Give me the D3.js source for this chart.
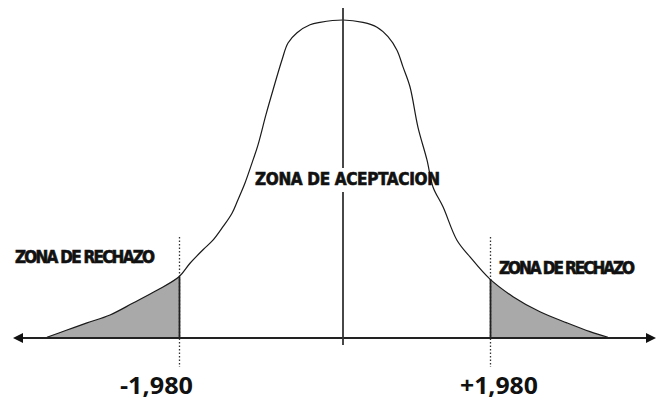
<!DOCTYPE html>
<html>
<head>
<meta charset="utf-8">
<script src="https://cdn.jsdelivr.net/npm/d3@7/dist/d3.min.js"></script>
<style>
  html, body { margin: 0; padding: 0; background: #fff; }
  svg { display: block; }
</style>
</head>
<body>
<svg id="chart" width="657" height="401"></svg>
<script>
// Standardised statistic (z) and curve height at each sampled point
const zValues = [-3.574, -3.332, -3.091, -2.813, -2.535, -2.246, -1.98, -1.847, -1.690, -1.570,
  -1.449, -1.340, -1.268, -1.183, -1.099, -1.026, -0.930, -0.845, -0.736, -0.664, -0.555,
  -0.398, -0.278, 0, 0.269, 0.458, 0.606, 0.727, 0.808, 0.902, 1.010, 1.131, 1.212, 1.347,
  1.535, 1.711, 1.98, 2.290, 2.653, 3.017, 3.327, 3.569];
const density = [0.001, 0.010, 0.019, 0.029, 0.044, 0.060, 0.077, 0.094, 0.111, 0.123,
  0.140, 0.157, 0.174, 0.195, 0.220, 0.243, 0.281, 0.312, 0.350, 0.371, 0.384,
  0.394, 0.397, 0.400, 0.397, 0.391, 0.379, 0.362, 0.341, 0.316, 0.265, 0.224, 0.190, 0.165,
  0.123, 0.102, 0.074, 0.052, 0.033, 0.019, 0.008, 0.001];

// Critical values and their labels
const criticalValues = [-1.98, 1.98];
const tickLabels = ["-1,980", "+1,980"];

// Zone labels
const acceptLabel = "ZONA DE ACEPTACION";
const rejectLabel = "ZONA DE RECHAZO";

const points = zValues.map((z, i) => ({ z, d: density[i] }));

const svg = d3.select("#chart");

const x = d3.scaleLinear().domain([-1.98, 0, 1.98]).range([179, 343, 490]);
const y = d3.scaleLinear().domain([0, 0.4]).range([338, 20]);
const baseY = y(0);

const line = d3.line().x(p => x(p.z)).y(p => y(p.d)).curve(d3.curveCatmullRom.alpha(0.5));
const area = d3.area().x(p => x(p.z)).y0(baseY).y1(p => y(p.d)).curve(d3.curveCatmullRom.alpha(0.5));

// Shaded rejection tails
const leftTail = points.filter(p => p.z <= criticalValues[0]);
const rightTail = points.filter(p => p.z >= criticalValues[1]);
svg.append("path").datum(leftTail).attr("d", area).attr("fill", "#a9a9a9");
svg.append("path").datum(rightTail).attr("d", area).attr("fill", "#a9a9a9");

// Critical value markers: dotted guide plus solid edge of the tail
const critTop = 237, critBottom = 367;
criticalValues.forEach(c => {
  const cx = Math.round(x(c)) + 0.5;
  const dc = points.find(p => p.z === c).d;
  svg.append("line")
    .attr("x1", cx).attr("x2", cx).attr("y1", critTop).attr("y2", critBottom)
    .attr("stroke", "#333").attr("stroke-width", 1.3).attr("stroke-dasharray", "1.5,2");
  svg.append("line")
    .attr("x1", cx).attr("x2", cx).attr("y1", y(dc)).attr("y2", baseY)
    .attr("stroke", "#222").attr("stroke-width", 1.8);
});

// Density curve
svg.append("path").datum(points).attr("d", line)
  .attr("fill", "none").attr("stroke", "#1a1a1a").attr("stroke-width", 1.2);

// Horizontal axis with arrowheads at both ends
const axisLeft = 13, axisRight = 656;
svg.append("line")
  .attr("x1", axisLeft + 4).attr("x2", axisRight - 4).attr("y1", baseY).attr("y2", baseY)
  .attr("stroke", "#222").attr("stroke-width", 2);
svg.append("path")
  .attr("d", `M${axisLeft},${baseY} L${axisLeft + 10},${baseY - 5} L${axisLeft + 10},${baseY + 5} Z`)
  .attr("fill", "#111");
svg.append("path")
  .attr("d", `M${axisRight},${baseY} L${axisRight - 10},${baseY - 5} L${axisRight - 10},${baseY + 5} Z`)
  .attr("fill", "#111");

const zoneFont = "'DejaVu Sans Condensed','Liberation Sans Narrow','Liberation Sans',sans-serif";

// Heavy, tightly spaced zone label; letter spacing is tuned so the text spans `width`
function zoneText(label, lx, ly, width, size) {
  const t = svg.append("text")
    .attr("x", lx).attr("y", ly)
    .attr("font-family", zoneFont).attr("font-weight", 700).attr("font-size", size)
    .attr("fill", "#111").attr("stroke", "#111").attr("stroke-width", 0.6)
    .text(label);
  const natural = t.node().getComputedTextLength();
  const spacing = (width - natural) / (label.length - 1);
  t.attr("letter-spacing", spacing.toFixed(2));
  return t;
}

// Acceptance zone label
const acc = zoneText(acceptLabel, 255, 185, 185, 17);
const accBox = acc.node().getBBox();

// Centre line, broken around the acceptance label
const cx0 = x(0);
[[8, accBox.y - 1], [accBox.y + accBox.height + 3, baseY + 7]].forEach(([a, b]) => {
  svg.append("line")
    .attr("x1", cx0).attr("x2", cx0).attr("y1", a).attr("y2", b)
    .attr("stroke", "#333").attr("stroke-width", 1.8);
});

// Rejection zone labels
zoneText(rejectLabel, 15, 263, 140, 17);
zoneText(rejectLabel, 499, 274, 136, 17);

// Critical value labels
[[120, 73], [460, 78]].forEach(([lx, w], i) => {
  svg.append("text")
    .attr("x", lx).attr("y", 394)
    .attr("textLength", w).attr("lengthAdjust", "spacingAndGlyphs")
    .attr("font-family", "'Open Sans','Noto Sans',sans-serif").attr("font-weight", 700).attr("font-size", 24)
    .attr("fill", "#111")
    .text(tickLabels[i]);
});
</script>
</body>
</html>
